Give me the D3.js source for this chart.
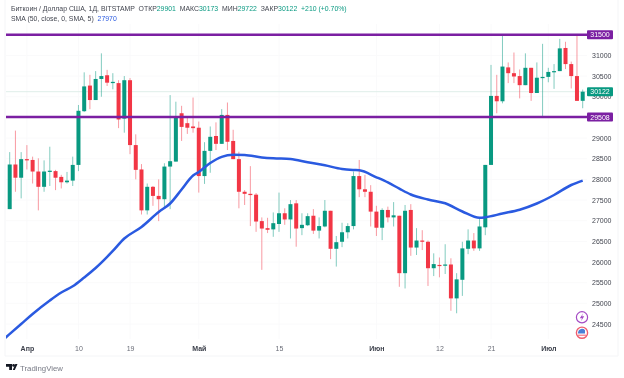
<!DOCTYPE html>
<html>
<head>
<meta charset="utf-8">
<script src="https://cdnjs.cloudflare.com/ajax/libs/d3/7.8.5/d3.min.js"></script>
<style>
body { margin: 0; background: #fff; }
svg { display: block; font-family: "Liberation Sans", Arial, sans-serif; filter: blur(0.3px); }
</style>
</head>
<body>
<svg class="chart"></svg>
<script>
var opens = [27280,28360,28040,28490,28470,28190,27820,28180,28200,28060,27930,27970,28350,29650,30270,29920,30430,30520,30330,30330,29470,30400,28830,28240,27250,27820,27600,27520,28310,28430,29600,29360,29280,29250,28080,28690,29050,28860,29560,28930,28490,27700,27650,27630,26990,26820,26790,26920,27180,27030,27420,26820,26890,27120,26760,26860,27240,26320,26490,26720,26870,28080,27760,27700,27220,26830,27260,27080,27120,25730,27260,26350,26520,26490,25850,25930,25910,25940,25120,25570,26320,26520,26330,26840,28350,30020,29890,30710,30570,30500,30280,30700,30090,30450,30480,30600,30620,31180,30790,30500,29901];
var highs = [28660,29180,28660,28830,28550,28510,28460,28790,28230,28110,28180,28550,29800,30590,30530,30620,31050,30650,30570,30400,30500,30450,29090,28370,27900,27840,28000,28390,30040,29880,29780,29520,29980,29400,28900,29280,29380,29700,29860,29200,28670,27740,28320,27670,27080,27070,27200,27680,27300,27500,27500,27180,27180,27280,27080,27500,27240,26630,26950,26940,28190,28470,28110,27860,27360,27300,27340,27450,27120,27380,27400,26820,26770,26520,26210,26110,26430,26090,25730,26490,26790,26700,27060,28350,30770,30530,31480,30830,31070,30660,31050,30700,30830,31280,30700,30790,31400,31330,30850,31520,30173];
var lows = [27280,27700,27540,28240,27900,27250,27700,27840,27740,27780,27900,27840,28200,29630,29700,29920,30000,30260,30180,29240,29130,28610,28000,27150,27150,27360,26990,27320,27280,28430,28930,29100,29130,27680,27890,28160,28710,28860,28710,28490,27300,27380,26870,26730,25810,26700,26610,26730,26900,26570,26370,26650,26870,26680,26570,26840,26070,25890,26360,26570,26790,27570,27570,26860,26630,26530,26960,26860,25400,25360,26150,26170,26290,25420,25660,25630,25710,24820,24760,25180,26190,26270,26270,26650,28350,29600,29840,30330,30330,29960,30280,29900,30090,29520,30350,30190,30620,30670,30200,29900,29722];
var closes = [28360,28040,28490,28460,28190,27820,28190,28210,28040,27930,27970,28350,29660,30250,29920,30430,30500,30340,30360,29450,30400,28830,28230,27250,27820,27600,27520,28310,28440,29520,29270,29250,29240,28080,28690,29030,28860,29560,28910,28490,27700,27650,27620,26980,26810,26780,26940,27180,27030,27400,26810,26900,27110,26760,26870,27240,26320,26480,26720,26870,28080,27760,27700,27220,26830,27260,27080,27130,25730,27240,26350,26520,26490,25850,25950,25910,25940,25120,25580,26330,26520,26330,26860,28350,30020,29890,30730,30570,30490,30280,30700,30090,30460,30480,30600,30620,31170,30790,30500,29900,30122];

// SMA at these candle numbers
var smaIndex = [-1,2,4,7,9,11,13,15,18,20,23,26,28,30,32,33,35,37,39,41,44,46,49,52,55,58,60,61,64,66,68,70,73,76,79,82,83,86,89,92,95,98,100];
var smaValues = [24137,24500,24742,25069,25262,25412,25625,25855,26267,26569,26848,27211,27416,27755,28094,28179,28396,28546,28597,28590,28532,28510,28493,28413,28341,28251,28227,28220,28050,27925,27775,27634,27513,27421,27223,27070,27082,27174,27266,27416,27622,27864,27970];

var dateIndex = [3,12,21,33,47,64,75,84,94];
var dateLabels = ["Апр","10","19","Май","15","Июн","12","21","Июл"];
var monthLabels = ["Апр","Май","Июн","Июл"];
var priceTicks = [24500,25000,25500,26000,26500,27000,27500,28000,28500,29000,29500,30000,30500,31000];
var levels = [31500,29508];
var lastPrice = 30122;

var green = "#089981", red = "#f23645", purple = "#7b1fa2", blue = "#2a5ae0";
var width = 624, height = 378;
var left = 6, right = 587, bottom = 339;

var svg = d3.select(".chart").attr("width", width).attr("height", height);

var x = d3.scaleLinear().domain([0, 100]).range([9.7, 582.7]);
var y = d3.scaleLinear().domain([24500, 31500]).range([324, 34.75]);

svg.append("defs").append("clipPath").attr("id", "plot")
    .append("rect").attr("x", left).attr("y", 0).attr("width", right - left).attr("height", bottom);

// frame
svg.append("path")
    .attr("d", "M5,0V356H618V0")
    .attr("fill", "none")
    .attr("stroke", "#f4f5f7")
    .attr("stroke-width", 1);

// grid
var grid = svg.append("g").attr("stroke", "#fafafb").attr("stroke-width", 1);
grid.selectAll(".h").data(priceTicks).enter().append("line")
    .attr("x1", left).attr("x2", right)
    .attr("y1", function (d) { return y(d); })
    .attr("y2", function (d) { return y(d); });
grid.selectAll(".v").data(dateIndex).enter().append("line")
    .attr("y1", 24).attr("y2", bottom)
    .attr("x1", function (d) { return x(d); })
    .attr("x2", function (d) { return x(d); });

// last price line
svg.append("line")
    .attr("x1", left).attr("x2", right)
    .attr("y1", y(lastPrice)).attr("y2", y(lastPrice))
    .attr("stroke", "#dfeee9").attr("stroke-width", 1);

var plot = svg.append("g").attr("clip-path", "url(#plot)");
var candles = d3.range(opens.length);
var candleColor = function (i) { return closes[i] >= opens[i] ? green : red; };

plot.selectAll(".wick").data(candles).enter().append("line")
    .attr("x1", function (i) { return x(i); })
    .attr("x2", function (i) { return x(i); })
    .attr("y1", function (i) { return y(highs[i]); })
    .attr("y2", function (i) { return y(lows[i]); })
    .attr("stroke", candleColor)
    .attr("stroke-opacity", 0.5)
    .attr("stroke-width", 1);

plot.selectAll(".body").data(candles).enter().append("rect")
    .attr("x", function (i) { return x(i) - 2; })
    .attr("width", 4)
    .attr("y", function (i) { return y(Math.max(opens[i], closes[i])); })
    .attr("height", function (i) { return Math.max(1.2, Math.abs(y(opens[i]) - y(closes[i]))); })
    .attr("fill", candleColor);

var line = d3.line()
    .x(function (d) { return x(d); })
    .y(function (d, i) { return y(smaValues[i]); })
    .curve(d3.curveMonotoneX);

plot.append("path")
    .attr("d", line(smaIndex))
    .attr("fill", "none")
    .attr("stroke", blue)
    .attr("stroke-width", 2.5);

plot.selectAll(".level").data(levels).enter().append("line")
    .attr("x1", left).attr("x2", right)
    .attr("y1", function (d) { return y(d); })
    .attr("y2", function (d) { return y(d); })
    .attr("stroke", purple)
    .attr("stroke-width", 2.4);

// axes; the 29500 label sits right under the 29508 tag so it is left out
var yAxis = svg.append("g")
    .attr("transform", "translate(592,0)")
    .call(d3.axisRight(y)
        .tickValues(priceTicks.filter(function (d) { return d !== 29500; }))
        .tickSize(0).tickPadding(0).tickFormat(d3.format("d")));
yAxis.select(".domain").remove();
yAxis.selectAll("text").attr("font-size", 7).attr("fill", "#434650").attr("font-family", "inherit");

var xAxis = svg.append("g")
    .attr("transform", "translate(0,346)")
    .call(d3.axisBottom(x).tickValues(dateIndex).tickSize(0).tickPadding(0)
        .tickFormat(function (d) { return dateLabels[dateIndex.indexOf(d)]; }));
xAxis.select(".domain").remove();
xAxis.selectAll("text")
    .attr("font-size", 7)
    .attr("font-family", "inherit")
    .attr("font-weight", function (d) { return monthLabels.indexOf(dateLabels[dateIndex.indexOf(d)]) >= 0 ? "bold" : "normal"; })
    .attr("fill", function (d) { return monthLabels.indexOf(dateLabels[dateIndex.indexOf(d)]) >= 0 ? "#3a3e49" : "#6a6d78"; });

// price tags
var tags = levels.map(function (d) { return {v: d, c: purple}; }).concat([{v: lastPrice, c: green}]);
var tag = svg.selectAll(".tag").data(tags).enter().append("g")
    .attr("transform", function (d) { return "translate(587," + y(d.v) + ")"; });
tag.append("rect")
    .attr("x", 0).attr("y", -4.5).attr("width", 26).attr("height", 9).attr("rx", 1)
    .attr("fill", function (d) { return d.c; });
tag.append("text")
    .attr("x", 13).attr("y", 2.6)
    .attr("text-anchor", "middle")
    .attr("font-size", 7)
    .attr("fill", "#fff")
    .text(function (d) { return d.v; });

// header
var title = svg.append("text").attr("x", 11).attr("y", 10.5).attr("font-size", 6.9).attr("fill", "#434650").attr("xml:space", "preserve");
var titleParts = [
    ["Биткоин / Доллар США, 1Д, BITSTAMP  ОТКР", "#434650"], ["29901", green],
    ["  МАКС", "#434650"], ["30173", green],
    ["  МИН", "#434650"], ["29722", green],
    ["  ЗАКР", "#434650"], ["30122", green],
    ["  +210 (+0.70%)", green]
];
title.selectAll("tspan").data(titleParts).enter().append("tspan")
    .attr("fill", function (d) { return d[1]; })
    .text(function (d) { return d[0]; });

var smaTitle = svg.append("text").attr("x", 11).attr("y", 20.5).attr("font-size", 6.9).attr("fill", "#434650").attr("xml:space", "preserve");
smaTitle.append("tspan").text("SMA (50, close, 0, SMA, 5)  ");
smaTitle.append("tspan").attr("fill", blue).text("27970");

// markers by the last candle
var bolt = svg.append("g").attr("transform", "translate(582,317.3)");
bolt.append("circle").attr("r", 5.6).attr("fill", "#fff").attr("stroke", "#a44bc4").attr("stroke-width", 1.2);
bolt.append("path").attr("d", "M1.2,-4L-2.2,1H0L-1,4L2.2,-1H0Z").attr("fill", "#a44bc4");

var flag = svg.append("g").attr("transform", "translate(582,332.7)");
flag.append("circle").attr("r", 5.6).attr("fill", "#fff").attr("stroke", "#ef5c6e").attr("stroke-width", 1.4);
flag.append("path").attr("d", "M-4,-0.5A4,4 0 0 1 3,-2.5V0.8H-4Z").attr("fill", "#4a7fd6");
flag.append("path").attr("d", "M-4,2.5H4").attr("stroke", "#ef5c6e").attr("stroke-width", 1);

// footer logo
var logo = svg.append("g").attr("transform", "translate(6,364)").attr("fill", "#131722");
logo.append("path").attr("d", "M0,0H6V6H3.2V2.8H0Z");
logo.append("circle").attr("cx", 7.6).attr("cy", 1.4).attr("r", 1.4);
logo.append("path").attr("d", "M11.5,0L8.8,6H6.8L9.3,0Z");
svg.append("text").attr("x", 20).attr("y", 370.5).attr("font-size", 7.8).attr("fill", "#787b86").text("TradingView");
</script>
</body>
</html>
